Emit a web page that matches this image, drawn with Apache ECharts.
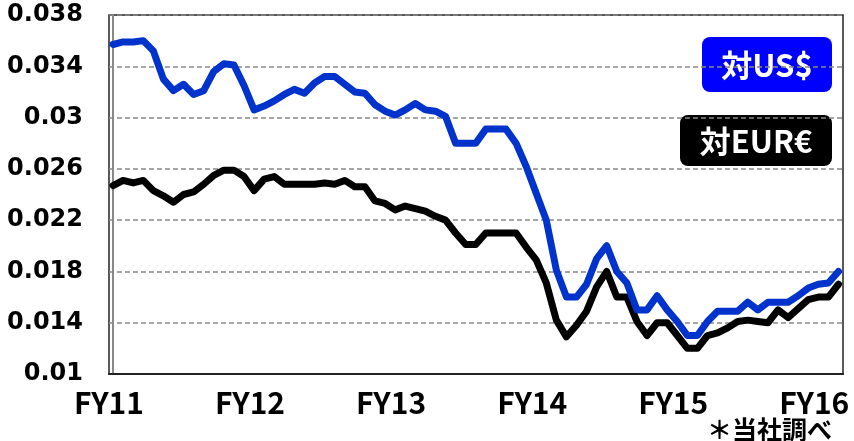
<!DOCTYPE html>
<html>
<head>
<meta charset="utf-8">
<script src="https://cdn.jsdelivr.net/npm/echarts@6/dist/echarts.min.js"></script>
<style>
  html, body { margin: 0; padding: 0; background: #fff; }
  #chart { width: 854px; height: 441px; }
</style>
</head>
<body>
<div id="chart"></div>
<script>
// FY tick labels, one every 14 points
const fyLabels = ['FY11', 'FY12', 'FY13', 'FY14', 'FY15', 'FY16'];

// 対US$
const usdValues = [
  0.0357, 0.0359, 0.0359, 0.0360, 0.0352, 0.0330, 0.0321, 0.0326, 0.0318, 0.0321,
  0.0336, 0.0342, 0.0341, 0.0325, 0.0306, 0.0309, 0.0313, 0.0318, 0.0322, 0.0319,
  0.0327, 0.0332, 0.0332, 0.0326, 0.0320, 0.0319, 0.0310, 0.0305, 0.0302, 0.0306,
  0.0311, 0.0306, 0.0305, 0.0301, 0.0280, 0.0280, 0.0280, 0.0291, 0.0291, 0.0291,
  0.0280, 0.0262, 0.0241, 0.0220, 0.0181, 0.0160, 0.0160, 0.0170, 0.0190, 0.0200,
  0.0180, 0.0171, 0.0150, 0.0150, 0.0161, 0.0150, 0.0141, 0.0130, 0.0130, 0.0141,
  0.0149, 0.0149, 0.0149, 0.0156, 0.0150, 0.0156, 0.0156, 0.0156, 0.0161, 0.0167,
  0.0170, 0.0171, 0.0180
];

// 対EUR€
const eurValues = [
  0.0247, 0.0251, 0.0249, 0.0251, 0.0243, 0.0239, 0.0234, 0.0240, 0.0242, 0.0248,
  0.0255, 0.0259, 0.0259, 0.0254, 0.0243, 0.0252, 0.0254, 0.0248, 0.0248, 0.0248,
  0.0248, 0.0249, 0.0248, 0.0251, 0.0246, 0.0246, 0.0235, 0.0233, 0.0228, 0.0231,
  0.0229, 0.0227, 0.0223, 0.0220, 0.0210, 0.0201, 0.0201, 0.0210, 0.0210, 0.0210,
  0.0210, 0.0199, 0.0189, 0.0171, 0.0142, 0.0129, 0.0138, 0.0149, 0.0168, 0.0180,
  0.0160, 0.0160, 0.0141, 0.0130, 0.0140, 0.0140, 0.0130, 0.0120, 0.0120, 0.0130,
  0.0132, 0.0136, 0.0141, 0.0142, 0.0141, 0.0140, 0.0150, 0.0144, 0.0151, 0.0158,
  0.0160, 0.0160, 0.0170
];

const toPairs = arr => arr.map((v, i) => [i, v]);

let chartDom = document.getElementById('chart');
let myChart = echarts.init(chartDom, null, { renderer: 'canvas' });

let option = {
  backgroundColor: '#fff',
  animation: false,
  grid: {
    left: 109,
    right: 11,
    top: 15,
    bottom: 67,
    show: true,
    borderColor: '#222',
    borderWidth: 1.5,
  },
  xAxis: {
    type: 'value',
    min: -0.4,
    max: 72.45,
    interval: 14,
    axisLine: { show: true, onZero: false, lineStyle: { color: '#222', width: 2 } },
    axisTick: { show: false },
    splitLine: { show: false },
    axisLabel: {
      margin: 14,
      color: '#000',
      fontFamily: 'Noto Sans CJK JP',
      fontWeight: 'bold',
      fontSize: 30,
      formatter: v => {
        const k = Math.round(v / 14);
        return Math.abs(v - 14 * k) < 1 && fyLabels[k] ? fyLabels[k] : '';
      },
    },
  },
  yAxis: {
    type: 'value',
    min: 0.01,
    max: 0.038,
    interval: 0.004,
    axisLine: { show: true, lineStyle: { color: '#888', width: 2 } },
    axisTick: { show: false },
    splitLine: { show: true, lineStyle: { color: '#888', width: 1.5, type: [5, 3] } },
    axisLabel: {
      margin: 26,
      color: '#000',
      fontFamily: 'DejaVu Sans',
      fontWeight: 'bold',
      fontSize: 24,
      formatter: v => String(+v.toFixed(3)),
    },
  },
  series: [
    {
      name: '対EUR€',
      type: 'line',
      data: toPairs(eurValues),
      showSymbol: false,
      color: '#000',
      lineStyle: { width: 7, join: 'round', cap: 'round' },
    },
    {
      name: '対US$',
      type: 'line',
      data: toPairs(usdValues),
      showSymbol: false,
      color: '#0033cc',
      lineStyle: { width: 7, join: 'round', cap: 'round' },
    },
  ],
  graphic: [
    { type: 'rect', shape: { x: 702, y: 37, width: 130, height: 55, r: 8 }, style: { fill: '#0000ff' } },
    { type: 'text', x: 767, y: 65, style: { text: '対US$', fill: '#fff', font: 'bold 31px "Noto Sans CJK JP"', align: 'center', verticalAlign: 'middle' } },
    { type: 'rect', shape: { x: 680, y: 115, width: 152, height: 51, r: 8 }, style: { fill: '#000' } },
    { type: 'text', x: 756, y: 141, style: { text: '対EUR€', fill: '#fff', font: 'bold 31px "Noto Sans CJK JP"', align: 'center', verticalAlign: 'middle' } },
    { type: 'text', x: 832, y: 429, style: { text: '＊当社調べ', fill: '#000', font: 'bold 25px "Noto Sans CJK JP"', align: 'right', verticalAlign: 'middle' } },
  ],
};

option && myChart.setOption(option);
</script>
</body>
</html>
